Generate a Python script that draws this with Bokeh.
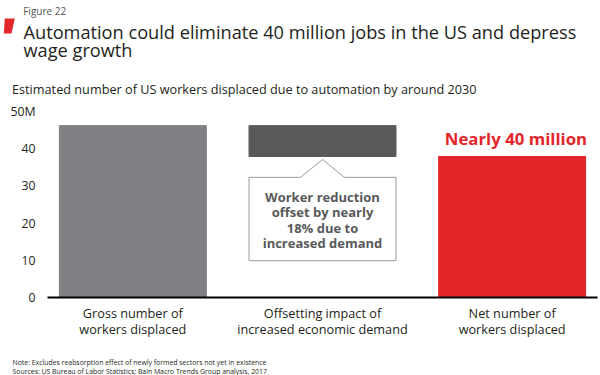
from bokeh.plotting import figure
from bokeh.layouts import column
from bokeh.models import FactorRange, Label, FixedTicker, ColumnDataSource, Range1d
from bokeh.embed import file_html
from bokeh.resources import INLINE
from bokeh.core.properties import value

# ---- data ----
categories = [
    "Gross number of\nworkers displaced",
    "Offsetting impact of\nincreased economic demand",
    "Net number of\nworkers displaced",
]
bar_top = [46.2, 46.2, 37.9]
bar_bottom = [0.0, 37.9, 0.0]
bar_colors = ["#808184", "#58595b", "#e3262a"]
y_ticks = [0, 10, 20, 30, 40, 50]
y_tick_labels = ["0", "10", "20", "30", "40", "50M"]

FONT = "Open Sans"
W = 600
HEAD_H, CHART_H, FOOT_H = 100, 245, 30
TEXT = "#231f20"


def blank(height, y0, y1):
    f = figure(width=W, height=height, x_range=Range1d(0, W), y_range=Range1d(y1, y0),
               output_backend="svg", toolbar_location=None, title=None,
               x_axis_location=None, y_axis_location=None,
               min_border=0, min_border_left=0, min_border_right=0,
               min_border_top=0, min_border_bottom=0)
    f.frame_align = False
    f.outline_line_color = None
    f.xgrid.visible = False
    f.ygrid.visible = False
    f.background_fill_color = "white"
    f.border_fill_color = "white"
    return f


def lab(f, x, y, text, size, color=TEXT, style="normal"):
    f.add_layout(Label(x=x, y=y, text=text, text_font=FONT, text_font_size=size,
                       text_color=color, text_font_style=style, text_baseline="alphabetic"))


# ---- header ----
head = blank(HEAD_H, 0, HEAD_H)
head.patch(x=[4.3, 14.3, 11.0, 3.3], y=[18, 18, 33, 33], fill_color="#e3262a", line_color=None)
lab(head, 22.7, 10, "Figure 22", "10px", "#555555")
lab(head, 23, 31.5, "Automation could eliminate 40 million jobs in the US and depress", "18.2px")
lab(head, 23, 49, "wage growth", "18.2px")
lab(head, 11.5, 88, "Estimated number of US workers displaced due to automation by around 2030", "12.7px")

# ---- chart ----
p = figure(
    x_range=FactorRange(*categories, range_padding=-0.0333),
    y_range=(0, 50),
    width=W, height=CHART_H,
    output_backend="svg", toolbar_location=None, title=None,
    min_border_left=47, min_border_right=3, min_border_top=11, min_border_bottom=48,
)
p.frame_align = False
p.outline_line_color = None
p.xgrid.visible = False
p.ygrid.visible = False
p.background_fill_color = "white"
p.border_fill_color = "white"

src = ColumnDataSource(dict(x=categories, top=bar_top, bottom=bar_bottom, color=bar_colors))
p.vbar(x="x", top="top", bottom="bottom", width=0.775, color="color", source=src)

xa = p.xaxis[0]
xa.axis_line_color = "#000000"
xa.axis_line_width = 2
xa.major_tick_line_color = None
xa.minor_tick_line_color = None
xa.major_label_text_font = FONT
xa.major_label_text_font_size = "12.7px"
xa.major_label_text_color = TEXT
xa.major_label_standoff = 0
xa.major_label_text_line_height = 0.9

ya = p.yaxis[0]
ya.ticker = FixedTicker(ticks=y_ticks)
ya.major_label_overrides = {t: l for t, l in zip(y_ticks, y_tick_labels)}
ya.axis_line_color = None
ya.major_tick_line_color = None
ya.minor_tick_line_color = None
ya.major_label_text_font = FONT
ya.major_label_text_font_size = "12.3px"
ya.major_label_text_color = TEXT
ya.major_label_standoff = 6

# callout under the offset bar
cx = categories.index(categories[1]) + 0.5
half = 0.3875
top_y, bot_y, apex_y, pw = 32.3, 9.9, 37.1, 0.116
p.patch(
    x=[cx - half, cx - pw, cx, cx + pw, cx + half, cx + half, cx - half],
    y=[top_y, top_y, apex_y, top_y, top_y, bot_y, bot_y],
    fill_color="white", line_color="#9a9a9a", line_width=1,
)
p.text(x=[cx], y=[20.8], text=["Worker reduction\noffset by nearly\n18% due to\nincreased demand"],
       text_font=value(FONT), text_font_style="bold", text_font_size="13px",
       text_color="#58595b", text_align="center", text_baseline="middle", text_line_height=0.85)

p.add_layout(Label(x=2.52, y=42.7, text="Nearly 40 million", text_font=FONT,
                   text_font_style="bold", text_font_size="16.8px", text_color="#e3262a",
                   text_align="center", text_baseline="middle"))

# ---- footer ----
foot = blank(FOOT_H, CHART_H + HEAD_H, CHART_H + HEAD_H + FOOT_H)
lab(foot, 12, 361.5, "Note: Excludes reabsorption effect of newly formed sectors not yet in existence", "6.9px")
lab(foot, 12, 370.5, "Sources: US Bureau of Labor Statistics; Bain Macro Trends Group analysis, 2017", "6.9px")

layout = column(head, p, foot, spacing=0)
open("out.html", "w").write(file_html(layout, INLINE))
